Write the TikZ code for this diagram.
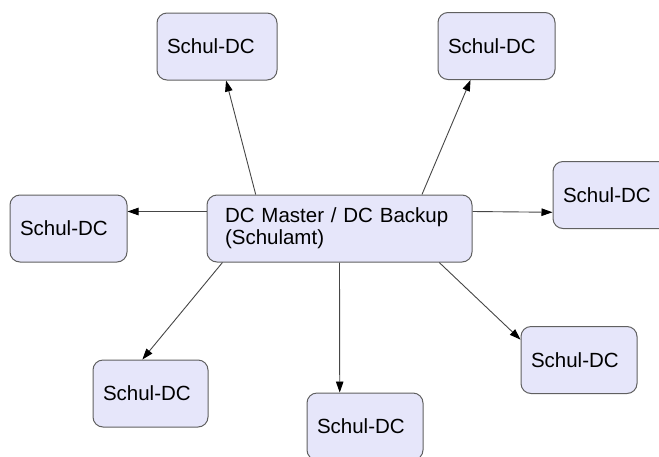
\documentclass[tikz,border=0pt]{standalone}
\usepackage{fontspec}
\setmainfont{Liberation Sans}
\usetikzlibrary{arrows.meta,calc}
\definecolor{boxfill}{RGB}{230,230,250}
\definecolor{boxline}{RGB}{96,96,96}
\definecolor{edgeline}{RGB}{70,70,70}
\tikzset{
  dcbox/.style={draw=boxline, line width=1pt, fill=boxfill, rounded corners=10pt,
    rectangle, minimum height=67pt, inner xsep=10pt, inner ysep=0pt,
    align=left, font=\fontsize{20.5}{22}\selectfont},
  link/.style={draw=edgeline, line width=0.9pt,
    -{Triangle[length=11pt,width=7.5pt,color=black,fill=black]}}
}
\begin{document}
\begin{tikzpicture}[x=1pt,y=-1pt]
  \useasboundingbox (0,0) rectangle (659,456);
  \clip (0,0) rectangle (659,456);

  % central domain controller
  \node[dcbox, minimum width=265pt, text width=229pt, inner xsep=18pt] (M) at (339.5,228.5)
    {DC Master / DC Backup\\(Schulamt)\\[-7pt]};

  % school domain controllers
  \node[dcbox, minimum width=120pt, text width=100pt] (A) at (217,46.5) {Schul-DC};
  \node[dcbox, minimum width=117pt, text width=97pt]  (B) at (496.5,46) {Schul-DC};
  \node[dcbox, minimum width=120pt, text width=100pt] (C) at (613,195) {Schul-DC};
  \node[dcbox, minimum width=117pt, text width=97pt]  (D) at (68.5,228.5) {Schul-DC};
  \node[dcbox, minimum width=115pt, text width=95pt]  (E) at (150.5,393.5) {Schul-DC};
  \node[dcbox, minimum width=116pt, text width=96pt]  (F) at (365,426.5) {Schul-DC};
  \node[dcbox, minimum width=116pt, text width=96pt]  (G) at (579,360) {Schul-DC};

  % replication links
  \draw[link] ($(M.north west)!0.185!(M.north east)$) -- ($(A.south west)!0.575!(A.south east)$);
  \draw[link] ($(M.north west)!0.81!(M.north east)$)  -- ($(B.south west)!0.28!(B.south east)$);
  \draw[link] ($(M.north west)!0.25!(M.south west)$)  -- ($(D.north east)!0.25!(D.south east)$);
  \draw[link] ($(M.north east)!0.25!(M.south east)$)  -- ($(C.north west)!0.754!(C.south west)$);
  \draw[link] ($(M.south west)!0.06!(M.south east)$)  -- ($(E.north west)!0.43!(E.north east)$);
  \draw[link] ($(M.south west)!0.50!(M.south east)$)  -- ($(F.north west)!0.284!(F.north east)$);
  \draw[link] ($(M.south west)!0.875!(M.south east)$) -- ($(G.north west)!0.2!(G.south west)$);
\end{tikzpicture}
\end{document}
